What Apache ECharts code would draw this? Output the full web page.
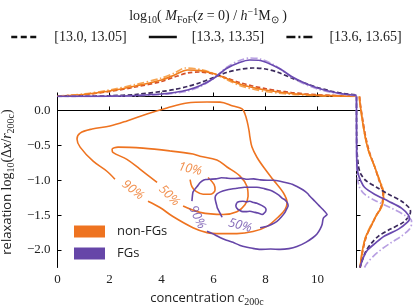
<!DOCTYPE html>
<html><head><meta charset="utf-8">
<script src="https://cdn.jsdelivr.net/npm/echarts@6/dist/echarts.min.js"></script>
<style>html,body{margin:0;padding:0;background:#fff}#c{width:416px;height:306px}</style>
</head><body><div id="c"></div>
<script>
// ---------- data ----------
const xTicks = [0, 2, 4, 6, 8, 10];
const yTicks = [-2, -1.5, -1, -0.5, 0];
const massBins = ['[13.0, 13.05]', '[13.3, 13.35]', '[13.6, 13.65]'];
const groups = ['non-FGs', 'FGs'];

// contours in (c200c, log10 relaxation), mass bin [13.3,13.35]
const nonFG10 = [[5.10,-0.99],[5.17,-1.09],[5.33,-1.16],[5.60,-1.20],[5.87,-1.20],[6.06,-1.14],[6.02,-1.06],[5.79,-0.96]];
const nonFG50 = [[4.83,-1.37],[5.48,-1.46],[6.37,-1.49],[6.90,-1.45],[7.21,-1.35],[7.33,-1.23],[7.29,-1.09],[7.02,-0.94],[6.52,-0.81],[6.13,-0.71],[5.48,-0.655],[5.21,-0.625],[4.33,-0.58],[3.29,-0.54],[2.33,-0.525],[2.10,-0.555],[2.13,-0.60],[2.67,-0.70],[3.17,-0.84],[3.83,-1.03]];
const nonFG90 = [[3.48,-1.30],[3.94,-1.39],[4.44,-1.52],[5.21,-1.68],[5.75,-1.75],[6.25,-1.765],[6.90,-1.765],[7.52,-1.735],[8.06,-1.66],[8.48,-1.53],[8.75,-1.42],[8.83,-1.32],[8.67,-1.17],[8.29,-0.99],[7.98,-0.84],[7.67,-0.67],[7.48,-0.525],[7.40,-0.38],[7.37,-0.295],[7.29,-0.15],[7.21,-0.05],[7.10,0.022],[6.75,0.065],[6.25,0.12],[5.75,0.122],[4.98,0.108],[4.21,0.036],[3.44,-0.05],[2.67,-0.15],[2.02,-0.223],[1.33,-0.266],[0.87,-0.324],[0.75,-0.41],[0.87,-0.525],[1.37,-0.727],[1.90,-0.871],[2.21,-0.986]];
const fg10 = [[6.90,-1.32],[7.00,-1.305],[7.13,-1.30],[7.27,-1.31],[7.40,-1.30],[7.55,-1.32],[7.67,-1.33],[7.85,-1.36],[7.98,-1.39],[8.02,-1.42],[8.00,-1.45],[7.87,-1.49],[7.72,-1.47],[7.60,-1.46],[7.40,-1.445],[7.25,-1.45],[7.13,-1.45],[7.00,-1.43],[6.90,-1.40],[6.86,-1.36],[6.90,-1.32]];
const fg50 = [[6.33,-1.53],[6.25,-1.47],[6.15,-1.40],[6.13,-1.37],[6.08,-1.30],[6.06,-1.25],[6.12,-1.20],[6.25,-1.17],[6.50,-1.14],[6.70,-1.125],[6.90,-1.115],[7.20,-1.10],[7.45,-1.10],[7.67,-1.10],[7.95,-1.12],[8.15,-1.14],[8.29,-1.16],[8.50,-1.21],[8.65,-1.26],[8.75,-1.28],[8.85,-1.33],[8.87,-1.37],[8.80,-1.42],[8.75,-1.46],[8.60,-1.53],[8.44,-1.59],[8.25,-1.63],[8.06,-1.66],[7.79,-1.68]];
const fg90 = [[5.17,-1.30],[5.19,-1.22],[5.21,-1.17],[5.30,-1.12],[5.37,-1.09],[5.47,-1.04],[5.56,-1.01],[5.70,-0.99],[5.87,-0.985],[6.10,-0.98],[6.30,-0.965],[6.52,-0.97],[6.80,-0.975],[7.05,-0.97],[7.29,-0.985],[7.55,-0.98],[7.80,-0.995],[8.06,-1.0],[8.30,-1.0],[8.56,-1.015],[8.85,-1.04],[9.05,-1.06],[9.21,-1.09],[9.45,-1.14],[9.62,-1.19],[9.71,-1.23],[9.90,-1.30],[10.05,-1.36],[10.21,-1.42],[10.37,-1.49],[10.25,-1.53],[10.21,-1.56],[10.18,-1.63],[10.10,-1.70],[9.98,-1.77],[9.83,-1.82],[9.55,-1.89],[9.21,-1.95],[8.90,-1.98],[8.56,-1.99],[8.20,-1.985],[7.79,-1.99],[7.50,-1.975],[7.29,-1.96],[7.00,-1.93],[6.75,-1.89],[6.50,-1.86],[6.25,-1.82],[6.05,-1.78],[5.87,-1.75],[5.75,-1.73]];
// contour labels: [c, relaxation, text]
const nonFGLabels = [[5.10,-0.84,'10%'],[4.29,-1.22,'50%'],[2.90,-1.14,'90%']];
const fgLabels = [[7.02,-1.65,'50%'],[5.37,-1.53,'90%']];

// top marginal: [c200c, density] per mass bin (dashed, solid, dash-dot)
const topNonFG = [
  [[0,0.004],[1,0.018],[2,0.05],[3,0.095],[4,0.15],[4.5,0.195],[5,0.235],[5.5,0.245],[6,0.225],[6.5,0.185],[7,0.14],[7.5,0.105],[8,0.078],[8.5,0.057],[9,0.04],[9.5,0.027],[10,0.018],[10.5,0.011],[11,0.006],[11.5,0.003]],
  [[0,0.004],[1,0.02],[2,0.055],[3,0.105],[4,0.165],[4.5,0.215],[5,0.265],[5.5,0.258],[6,0.23],[6.5,0.18],[7,0.125],[7.5,0.09],[8,0.065],[8.5,0.045],[9,0.03],[9.5,0.02],[10,0.012],[10.5,0.008],[11,0.004],[11.5,0.002]],
  [[0,0.005],[1,0.025],[2,0.065],[3,0.12],[4,0.185],[4.5,0.235],[4.9,0.285],[5.5,0.27],[6,0.23],[6.5,0.17],[7,0.11],[7.5,0.075],[8,0.05],[8.5,0.034],[9,0.022],[9.5,0.015],[10,0.009],[10.5,0.005],[11,0.003],[11.5,0.001]]
];
const topFG = [
  [[0,0.001],[1,0.003],[2,0.008],[3,0.02],[4,0.05],[4.5,0.07],[5,0.1],[5.5,0.14],[6,0.19],[6.5,0.24],[7,0.27],[7.5,0.285],[8,0.275],[8.5,0.24],[9,0.185],[9.5,0.135],[10,0.09],[10.5,0.055],[11,0.03],[11.5,0.015]],
  [[0,0],[1,0.001],[2,0.003],[3,0.01],[4,0.025],[4.5,0.04],[5,0.065],[5.5,0.11],[6,0.18],[6.5,0.28],[7,0.34],[7.4,0.365],[7.8,0.36],[8.3,0.31],[8.6,0.27],[9,0.2],[9.5,0.135],[10,0.085],[10.5,0.05],[11,0.025],[11.5,0.012]],
  [[0,0],[1,0.001],[2,0.002],[3,0.007],[4,0.02],[4.5,0.033],[5,0.055],[5.5,0.1],[6,0.18],[6.5,0.29],[7,0.36],[7.4,0.385],[7.8,0.375],[8.3,0.32],[8.6,0.27],[9,0.195],[9.5,0.125],[10,0.075],[10.5,0.042],[11,0.02],[11.5,0.008]]
];
// right marginal: [density, relaxation] per mass bin (dashed, solid, dash-dot)
const rightNonFG = [
  [[0.06,0.2],[0.075,0.1],[0.095,0],[0.14,-0.2],[0.19,-0.4],[0.26,-0.6],[0.36,-0.8],[0.45,-1.0],[0.50,-1.1],[0.53,-1.2],[0.52,-1.3],[0.48,-1.4],[0.40,-1.5],[0.33,-1.6],[0.26,-1.7],[0.20,-1.8],[0.16,-1.9],[0.13,-2.0],[0.10,-2.1],[0.085,-2.2],[0.075,-2.25]],
  [[0.06,0.2],[0.07,0.1],[0.09,0],[0.13,-0.2],[0.18,-0.4],[0.25,-0.6],[0.36,-0.8],[0.46,-1.0],[0.51,-1.1],[0.54,-1.2],[0.53,-1.3],[0.49,-1.4],[0.40,-1.5],[0.33,-1.6],[0.26,-1.7],[0.19,-1.8],[0.15,-1.9],[0.12,-2.0],[0.10,-2.1],[0.08,-2.2],[0.07,-2.25]],
  [[0.055,0.2],[0.068,0.1],[0.088,0],[0.13,-0.2],[0.18,-0.4],[0.25,-0.6],[0.36,-0.8],[0.46,-1.0],[0.52,-1.1],[0.545,-1.2],[0.535,-1.3],[0.49,-1.4],[0.40,-1.5],[0.32,-1.6],[0.25,-1.7],[0.19,-1.8],[0.15,-1.9],[0.12,-2.0],[0.095,-2.1],[0.08,-2.2],[0.07,-2.25]]
];
const rightFG = [
  [[0,0.2],[0.005,-0.5],[0.04,-0.8],[0.08,-0.9],[0.18,-1.0],[0.4,-1.1],[0.64,-1.2],[0.9,-1.3],[1.06,-1.4],[1.08,-1.45],[1.06,-1.5],[0.94,-1.6],[0.68,-1.7],[0.44,-1.8],[0.3,-1.9],[0.2,-2.0],[0.14,-2.1],[0.09,-2.2],[0.07,-2.25]],
  [[0,0.2],[0.002,-0.5],[0.01,-0.8],[0.03,-0.9],[0.08,-1.0],[0.16,-1.1],[0.36,-1.2],[0.64,-1.3],[0.9,-1.4],[1.04,-1.5],[1.06,-1.55],[1.02,-1.6],[0.84,-1.7],[0.56,-1.8],[0.38,-1.9],[0.22,-2.0],[0.14,-2.1],[0.09,-2.2],[0.07,-2.25]],
  [[0,0.2],[0.001,-0.5],[0.005,-0.8],[0.015,-0.95],[0.06,-1.1],[0.16,-1.2],[0.4,-1.3],[0.7,-1.4],[0.96,-1.5],[1.1,-1.58],[1.1,-1.63],[1.06,-1.7],[0.9,-1.8],[0.68,-1.9],[0.48,-2.0],[0.32,-2.1],[0.2,-2.2],[0.16,-2.25]]
];

// ---------- styles ----------
const SERIF = 'Liberation Serif';
const SANS = 'Open Sans';
const ORANGE = '#ee7320', PURPLE = '#6646a8';
const nonFGColors = ['#d4502a', '#f07c1c', '#f7a552'];
const fgColors = ['#3b2a5c', '#6a4ab0', '#b8a0e2'];
const dashTypes = [[4.5, 2.5], 'solid', [7, 2.5, 1.5, 2.5]];
const legendDash = [[6, 3.5], 'solid', [9, 3, 2, 3]];
const labelAngle = {'non-FGs': [-12, -45, -38], 'FGs': [-15, -65]};

const yFmt = v => (v < 0 ? '\u2212' : '') + Math.abs(v).toFixed(1);

const base = {fontFamily: SERIF, fontWeight: 'normal', color: '#222'};
const sub = Object.assign({}, base, {fontSize: 10, lineHeight: 10, verticalAlign: 'bottom'});
const sup = Object.assign({}, base, {fontSize: 10, lineHeight: 10, verticalAlign: 'top'});
const nrm = Object.assign({}, base, {fontSize: 14, lineHeight: 18});
const itl = Object.assign({}, base, {fontSize: 14, lineHeight: 18, fontStyle: 'italic'});
const sans = {fontFamily: SANS, fontWeight: 'normal', fontSize: 13, lineHeight: 18, color: '#222'};

const series = [];
function contour(name, data, color, smooth) {
  series.push({name, type: 'line', xAxisIndex: 0, yAxisIndex: 0, data, symbol: 'none', smooth,
    lineStyle: {color, width: 1.6}, itemStyle: {color}, z: 3});
}
[nonFG10, nonFG50, nonFG90].forEach(d => contour(groups[0], d, ORANGE, 0.35));
[fg10, fg50, fg90].forEach(d => contour(groups[1], d, PURPLE, 0.15));

function labels(list, color, angles) {
  series.push({type: 'scatter', xAxisIndex: 0, yAxisIndex: 0, symbolSize: 0, silent: true, z: 4,
    data: list.map((d, i) => ({value: [d[0], d[1]], name: d[2], label: {rotate: angles[i]}})),
    label: {show: true, position: 'inside', formatter: p => p.name, color, fontFamily: SANS,
      fontStyle: 'italic', fontSize: 12.5}});
}
labels(nonFGLabels, ORANGE, labelAngle['non-FGs']);
labels(fgLabels, PURPLE, labelAngle['FGs']);

const order = [0, 2, 1];
order.forEach(k => {
  series.push({name: 'non-FGs ' + massBins[k], type: 'line', xAxisIndex: 1, yAxisIndex: 1, data: topNonFG[k],
    symbol: 'none', smooth: 0.3, lineStyle: {color: nonFGColors[k], width: 1.7, type: dashTypes[k]}});
  series.push({name: 'non-FGs r ' + massBins[k], type: 'line', xAxisIndex: 2, yAxisIndex: 2, data: rightNonFG[k],
    symbol: 'none', smooth: 0.3, lineStyle: {color: nonFGColors[k], width: 1.7, type: dashTypes[k]}});
});
order.forEach(k => {
  series.push({name: 'FGs ' + massBins[k], type: 'line', xAxisIndex: 1, yAxisIndex: 1, data: topFG[k],
    symbol: 'none', smooth: 0.3, lineStyle: {color: fgColors[k], width: 1.7, type: dashTypes[k]}});
  series.push({name: 'FGs r ' + massBins[k], type: 'line', xAxisIndex: 2, yAxisIndex: 2, data: rightFG[k],
    symbol: 'none', smooth: 0.3, lineStyle: {color: fgColors[k], width: 1.7, type: dashTypes[k]}});
});
massBins.forEach((m, k) => {
  series.push({name: m, type: 'line', xAxisIndex: 0, yAxisIndex: 0, data: [], symbol: 'none',
    lineStyle: {color: '#111', width: 2.5, type: legendDash[k]}, itemStyle: {color: '#111'}});
});

const tickStyle = {color: '#000', width: 1};
const option = {
  animation: false,
  backgroundColor: '#fff',
  title: {
    left: 'center', top: 2,
    text: '{n|log}{s|10}{n|( }{i|M}{s|FoF}{n|(}{i|z}{n| = 0) / }{i|h}{p|\u22121}{n|M}{s|\u2299}{n| )}',
    textStyle: {fontWeight: 'normal', rich: {n: nrm, i: itl, s: sub, p: sup}}
  },
  legend: [
    {data: massBins.map((m, k) => ({name: m, itemStyle: {opacity: 0},
        lineStyle: {color: '#111', width: 2.5, type: legendDash[k]}})),
      left: 5, top: 25, width: 411, itemWidth: 28, itemHeight: 14, itemGap: 21,
      textStyle: {fontFamily: SERIF, fontSize: 14, color: '#222', padding: [0, 0, 0, 10]}, selectedMode: false},
    {data: groups, left: 69, top: 220, orient: 'vertical', icon: 'rect', itemWidth: 31, itemHeight: 12, itemGap: 9,
      textStyle: {fontFamily: SANS, fontSize: 13, color: '#222', padding: [0, 0, 0, 7]}, selectedMode: false}
  ],
  grid: [
    {left: 57.5, top: 96.5, width: 299, height: 171, outerBoundsMode: 'none'},
    {left: 57.5, top: 56.5, width: 299, height: 40, outerBoundsMode: 'none'},
    {left: 356.5, top: 96.5, width: 56, height: 171, outerBoundsMode: 'none'}
  ],
  xAxis: [
    {gridIndex: 0, type: 'value', min: 0, max: 11.5,
      axisLine: {show: true, lineStyle: tickStyle},
      axisTick: {show: true, inside: true, length: 4, lineStyle: tickStyle, customValues: xTicks},
      axisLabel: {margin: 6, fontFamily: SERIF, fontSize: 13, color: '#222', customValues: xTicks},
      splitLine: {show: false},
      name: '{t|concentration} {i|c}{s|200c}', nameLocation: 'middle', nameGap: 21,
      nameTextStyle: {rich: {t: sans, i: itl, s: sub}}},
    {gridIndex: 1, type: 'value', min: 0, max: 11.5, position: 'bottom',
      axisLine: {show: true, lineStyle: tickStyle},
      axisTick: {show: true, inside: true, length: 4, lineStyle: tickStyle, customValues: xTicks},
      axisLabel: {show: false}, splitLine: {show: false}},
    {gridIndex: 2, type: 'value', min: 0, max: 1.12, show: false, splitLine: {show: false}}
  ],
  yAxis: [
    {gridIndex: 0, type: 'value', min: -2.25, max: 0.2,
      axisLine: {show: true, lineStyle: tickStyle},
      axisTick: {show: true, inside: true, length: 4, lineStyle: tickStyle, customValues: yTicks},
      axisLabel: {margin: 7, fontFamily: SERIF, fontSize: 13, color: '#222', customValues: yTicks, formatter: yFmt},
      splitLine: {show: false},
      name: '{t|relaxation} {n|log}{s|10}{n|(\u0394}{i|x}{n|/}{i|r}{s|200c}{n|)}', nameLocation: 'middle', nameGap: 33,
      nameTextStyle: {rich: {t: sans, n: nrm, i: itl, s: sub}}},
    {gridIndex: 1, type: 'value', min: 0, max: 0.4, show: false, splitLine: {show: false}},
    {gridIndex: 2, type: 'value', min: -2.25, max: 0.2, position: 'left',
      axisLine: {show: true, lineStyle: tickStyle},
      axisTick: {show: true, inside: true, length: 4, lineStyle: tickStyle, customValues: yTicks},
      axisLabel: {show: false}, splitLine: {show: false}}
  ],
  series
};
const chart = echarts.init(document.getElementById('c'), null, {renderer: 'canvas'});
chart.setOption(option);
</script>
</body></html>
